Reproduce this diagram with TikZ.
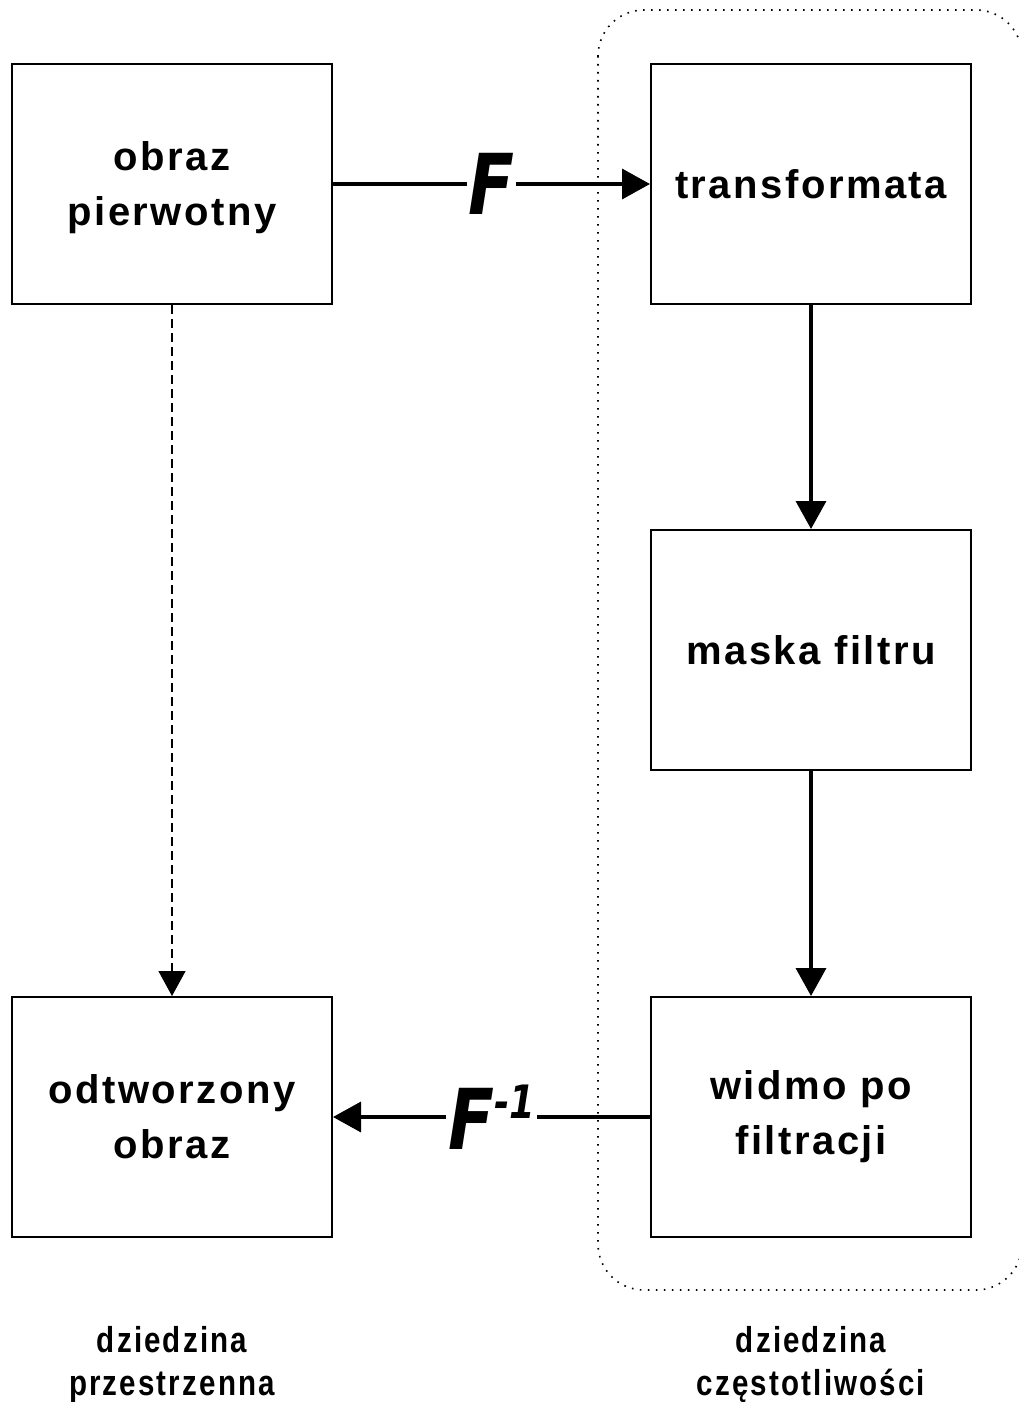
\documentclass[tikz,border=0pt]{standalone}
\usepackage{fontspec}
\setmainfont{Liberation Sans}
\newfontfamily\boxfont[LetterSpace=6.2]{Liberation Sans}
\newfontfamily\domfont[FakeStretch=0.82,LetterSpace=6]{Liberation Sans}
\newfontfamily\ffont[FakeStretch=0.8]{DejaVu Sans}
\usetikzlibrary{arrows.meta}
\tikzset{
  blk/.style={draw, line width=2pt, minimum width=320pt, minimum height=240pt,
    align=center, inner sep=0pt, font=\fontsize{40}{55}\boxfont\bfseries},
  arr/.style={line width=3.6pt, -{Triangle[length=28pt,width=30pt]}},
  dasharr/.style={line width=1.2pt, dash pattern=on 9pt off 5pt,
    -{Triangle[length=25pt,width=27pt]}},
  flab/.style={fill=white, inner sep=2pt, font=\fontsize{84}{84}\ffont\bfseries\itshape},
  domlab/.style={align=center, font=\fontsize{36}{43}\domfont\bfseries},
  region/.style={line width=1.6pt, dash pattern=on 1.6pt off 6.4pt, rounded corners=46pt}
}
\begin{document}
\begin{tikzpicture}[x=1pt,y=-1pt]
\useasboundingbox (0,0) rectangle (1018,1402);
\draw[region] (598,10) rectangle (1022,1290);
\node[blk, text depth=0pt] (A) at (172,184) {obraz\\pierwotny};
\node[blk] (B) at (811,184) {transformata};
\node[blk] (C) at (811,650) {maska filtru};
\node[blk] (D) at (811,1117) {widmo po\\filtracji};
\node[blk] (E) at (172,1117) {odtworzony\\obraz};
\draw[arr] (A.east) -- node[flab] (f1) {F} (B.west);
\draw[arr] (B.south) -- (C.north);
\draw[arr] (C.south) -- (D.north);
\draw[arr] (D.west) -- node[flab] (f2) {F\raisebox{0.37em}{\fontsize{46}{46}\selectfont -1}} (E.east);
\draw[dasharr] (A.south) -- (E.north);
\node[domlab] (L1) at (172,1365) {dziedzina\\przestrzenna};
\node[domlab] (L2) at (811,1365) {dziedzina\\częstotliwości};
\end{tikzpicture}
\end{document}
